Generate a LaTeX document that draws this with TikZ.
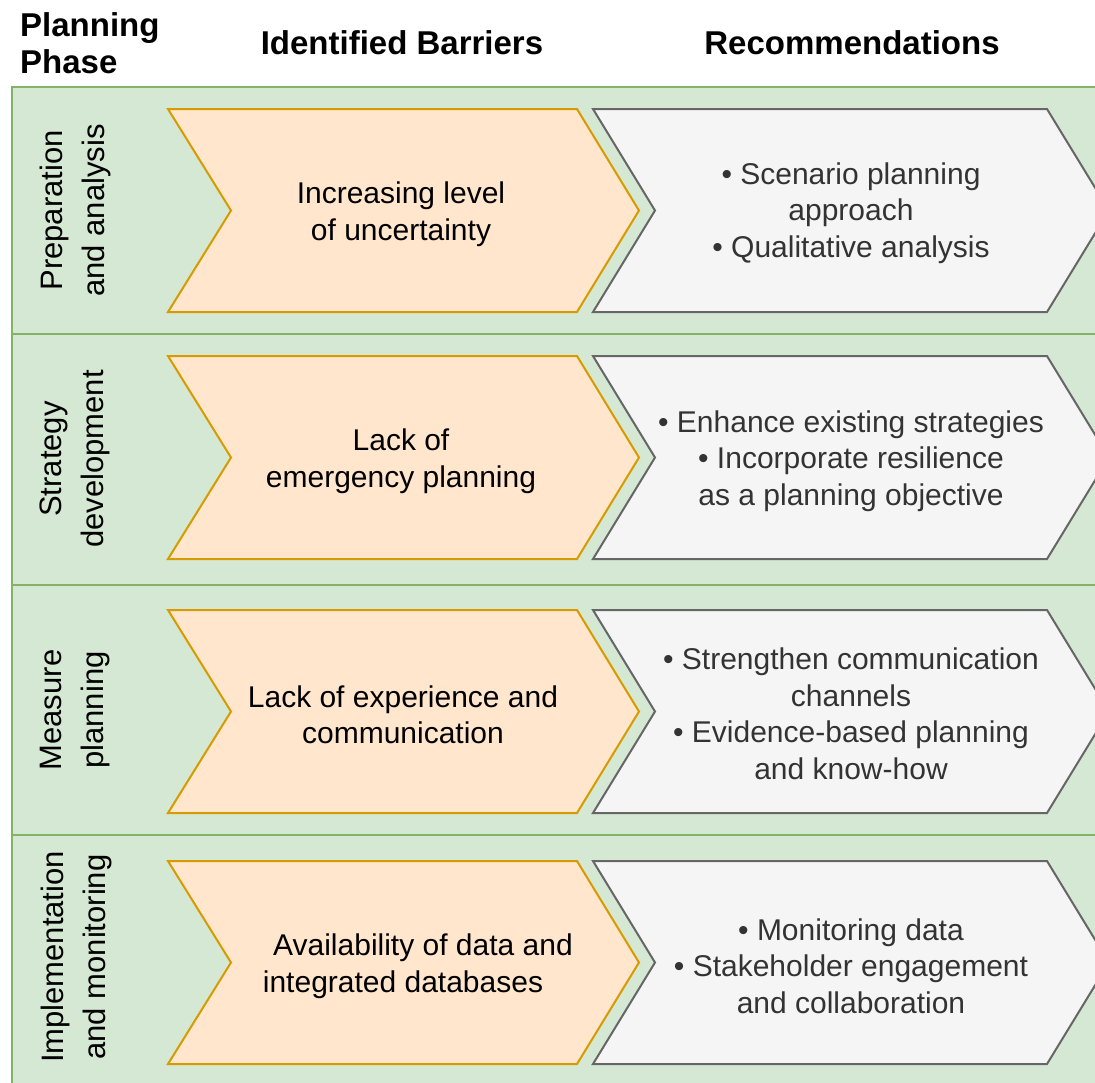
\documentclass[tikz,border=0pt]{standalone}
\usepackage{fontspec}
\setmainfont{Liberation Sans}
\definecolor{greenfill}{HTML}{D5E8D4}
\definecolor{greenline}{HTML}{82B366}
\definecolor{orangefill}{HTML}{FFE6CC}
\definecolor{orangeline}{HTML}{D79B00}
\definecolor{greyfill}{HTML}{F5F5F5}
\definecolor{greyline}{HTML}{666666}
\definecolor{greytext}{HTML}{333333}
\begin{document}
\begin{tikzpicture}[x=1pt,y=-1pt,
  rowbox/.style={fill=greenfill,draw=greenline,line width=2pt},
  barrier/.style={fill=orangefill,draw=orangeline,line width=2pt,line join=miter},
  recom/.style={fill=greyfill,draw=greyline,line width=2pt,line join=miter},
  header/.style={inner sep=0pt,font=\bfseries\fontsize{33}{37}\selectfont},
  phase/.style={inner sep=0pt,rotate=90,align=center,font=\fontsize{31}{42}\selectfont},
  btext/.style={inner sep=0pt,align=center,font=\fontsize{30}{36.5}\selectfont},
  rtext/.style={inner sep=0pt,align=center,text=greytext,font=\fontsize{30}{36.5}\selectfont}]
\useasboundingbox (0,0) rectangle (1095,1082);
\clip (0,0) rectangle (1095,1082);
\fill[white] (0,0) rectangle (1095,1082);
% rows
\draw[rowbox] (12,87) rectangle (1115,334);
\draw[rowbox] (12,334) rectangle (1115,585);
\draw[rowbox] (12,585) rectangle (1115,835);
\draw[rowbox] (12,835) rectangle (1115,1095);
% chevrons
\foreach \t/\b in {109/312,356/559,610/813,861/1064}{
  \pgfmathsetmacro{\m}{(\t+\b)/2}
  \draw[barrier] (168,\t) -- (577,\t) -- (639,\m) -- (577,\b) -- (168,\b) -- (231,\m) -- cycle;
  \draw[recom] (593,\t) -- (1047,\t) -- (1109,\m) -- (1047,\b) -- (593,\b) -- (655,\m) -- cycle;
}
% headers
\node[header,anchor=west,align=left] (hphase) at (20,43) {Planning\\Phase};
\node[header] (hbar) at (402,43) {Identified Barriers};
\node[header] (hrec) at (852,43) {Recommendations};
% phase labels
\node[phase] (p1) at (75,210.5) {Preparation\\and analysis};
\node[phase] (p2) at (75,459) {Strategy\\development};
\node[phase] (p3) at (75,710) {Measure\\planning};
\node[phase] (p4) at (76,957) {Implementation\\and monitoring};
% barriers
\node[btext] (b1) at (401,214) {Increasing level\\of uncertainty};
\node[btext] (b2) at (401,461) {Lack of\\emergency planning};
\node[btext] (b3) at (403,715) {Lack of experience and\\communication};
\node[btext] (b4) at (403,966) {\hspace*{40pt}Availability of data and\\integrated databases};
% recommendations
\node[rtext] (r1) at (851,213) {• Scenario planning\\approach\\• Qualitative analysis};
\node[rtext] (r2) at (851,461) {• Enhance existing strategies\\• Incorporate resilience\\as a planning objective};
\node[rtext] (r3) at (851,714) {• Strengthen communication\\channels\\• Evidence-based planning\\and know-how};
\node[rtext] (r4) at (851,966) {• Monitoring data\\• Stakeholder engagement\\and collaboration};
\end{tikzpicture}
\end{document}
